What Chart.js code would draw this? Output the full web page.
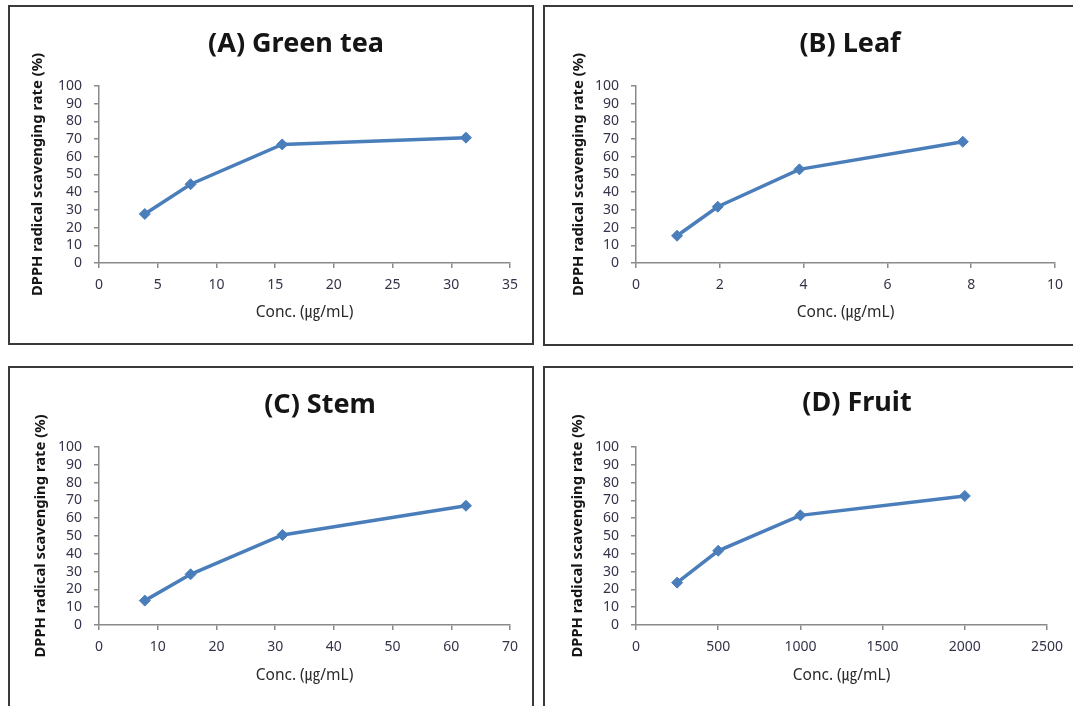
<!DOCTYPE html>
<html>
<head>
<meta charset="utf-8">
<script src="https://cdn.jsdelivr.net/npm/chart.js@4"></script>
<style>
  body { margin: 0; background: #fff; width: 1073px; height: 706px; overflow: hidden; position: relative; }
  .panel { position: absolute; border: 2px solid #3a3a3a; box-sizing: border-box; background: #fff; }
  .panel canvas { position: absolute; left: 0; top: 0; }
</style>
</head>
<body>
<script>
// DPPH radical scavenging rate (%) vs concentration, four extracts
const concA = [3.9, 7.8, 15.6, 31.25];
const rateA = [27.7, 44.5, 67.0, 70.8];
const concB = [0.98, 1.95, 3.9, 7.8];
const rateB = [15.4, 31.8, 52.9, 68.5];
const concC = [7.8, 15.6, 31.25, 62.5];
const rateC = [13.7, 28.5, 50.6, 67.0];
const concD = [250, 500, 1000, 2000];
const rateD = [23.8, 41.7, 61.6, 72.5];

const titles = ['(A) Green tea', '(B) Leaf', '(C) Stem', '(D) Fruit'];
const xMaxes = [35, 10, 70, 2500];
const xSteps = [5, 2, 10, 500];
const yMax = 100;
const yStep = 10;
const xLabel = 'Conc. (㎍/mL)';
const yLabel = 'DPPH radical scavenging rate (%)';

// page layout of each panel: frame box, plot area, title centre, axis title spots
const layouts = [
  { box: [8, 5, 534, 345],    plot: [99, 86, 510, 263],   title: [296, 44],  yTitleX: 38,  xTitleY: 313 },
  { box: [543, 5, 1085, 346], plot: [636, 86, 1055, 263], title: [850, 44],  yTitleX: 579, xTitleY: 313 },
  { box: [8, 366, 534, 715],  plot: [99, 447, 510, 625],  title: [320, 405], yTitleX: 41,  xTitleY: 676 },
  { box: [543, 366, 1085, 715], plot: [636, 447, 1047, 625], title: [857, 403], yTitleX: 578, xTitleY: 676 }
];

const series = [[concA, rateA], [concB, rateB], [concC, rateC], [concD, rateD]];

const FONT = '"Noto Sans", "Noto Sans CJK KR", sans-serif';
const BW = 2;

const panelTitle = {
  id: 'panelTitle',
  afterDraw(chart, args, opts) {
    const ctx = chart.ctx;
    ctx.save();
    ctx.font = 'bold 27px ' + FONT;
    ctx.fillStyle = '#151515';
    ctx.textAlign = 'center';
    ctx.textBaseline = 'middle';
    ctx.fillText(opts.text, opts.x, opts.y);
    ctx.restore();
  }
};

layouts.forEach((p, i) => {
  const [bl, bt, br, bb] = p.box;
  const div = document.createElement('div');
  div.className = 'panel';
  div.style.left = bl + 'px';
  div.style.top = bt + 'px';
  div.style.width = (br - bl) + 'px';
  div.style.height = (bb - bt) + 'px';
  document.body.appendChild(div);

  const cw = br - bl - 2 * BW, ch = bb - bt - 2 * BW;
  const ox = bl + BW, oy = bt + BW;
  const canvas = document.createElement('canvas');
  canvas.width = cw; canvas.height = ch;
  canvas.style.width = cw + 'px'; canvas.style.height = ch + 'px';
  div.appendChild(canvas);

  const [pl, pt, pr, pb] = p.plot;
  const [xs, ys] = series[i];
  const xTitleSize = 15.5, yTitleSize = 14.8;

  new Chart(canvas, {
    type: 'scatter',
    data: {
      datasets: [{
        data: xs.map((x, k) => ({ x: x, y: ys[k] })),
        showLine: true,
        borderColor: '#4a7ebb',
        backgroundColor: '#4a7ebb',
        borderWidth: 3.5,
        pointStyle: 'rectRot',
        pointRadius: 5.5,
        pointBorderWidth: 1,
        tension: 0
      }]
    },
    options: {
      responsive: false,
      animation: false,
      devicePixelRatio: 1,
      layout: { padding: { left: 0, top: pt - oy, right: ox + cw - pr, bottom: 0 } },
      plugins: {
        legend: { display: false },
        tooltip: { enabled: false },
        panelTitle: { text: titles[i], x: p.title[0] - ox, y: p.title[1] - oy }
      },
      scales: {
        x: {
          type: 'linear',
          min: 0, max: xMaxes[i],
          ticks: { stepSize: xSteps[i], autoSkip: false, maxRotation: 0, padding: 9,
                   color: '#33334a', font: { family: FONT, size: 14 },
                   callback: v => String(v) },
          grid: { drawOnChartArea: false, drawTicks: true, tickLength: 5, color: '#8a8a8a', lineWidth: 1.5 },
          border: { color: '#8a8a8a', width: 1.5 },
          title: { display: true, text: xLabel, color: '#2a2a2a',
                   font: { family: FONT, size: xTitleSize },
                   padding: { top: 0, bottom: (oy + ch) - p.xTitleY - xTitleSize * 1.2 / 2 } },
          afterFit: s => { s.height = (oy + ch) - pb; }
        },
        y: {
          min: 0, max: yMax,
          ticks: { stepSize: yStep, autoSkip: false, padding: 12,
                   color: '#33334a', font: { family: FONT, size: 14 },
                   callback: v => String(v) },
          grid: { drawOnChartArea: false, drawTicks: true, tickLength: 5, color: '#8a8a8a', lineWidth: 1.5 },
          border: { color: '#8a8a8a', width: 1.5 },
          title: { display: true, text: yLabel, color: '#151515',
                   font: { family: FONT, size: yTitleSize, weight: 'bold' },
                   padding: { top: p.yTitleX - ox - yTitleSize * 1.2 / 2, bottom: 0 } },
          afterFit: s => { s.width = pl - ox; }
        }
      }
    },
    plugins: [panelTitle]
  });
});
</script>
</body>
</html>
